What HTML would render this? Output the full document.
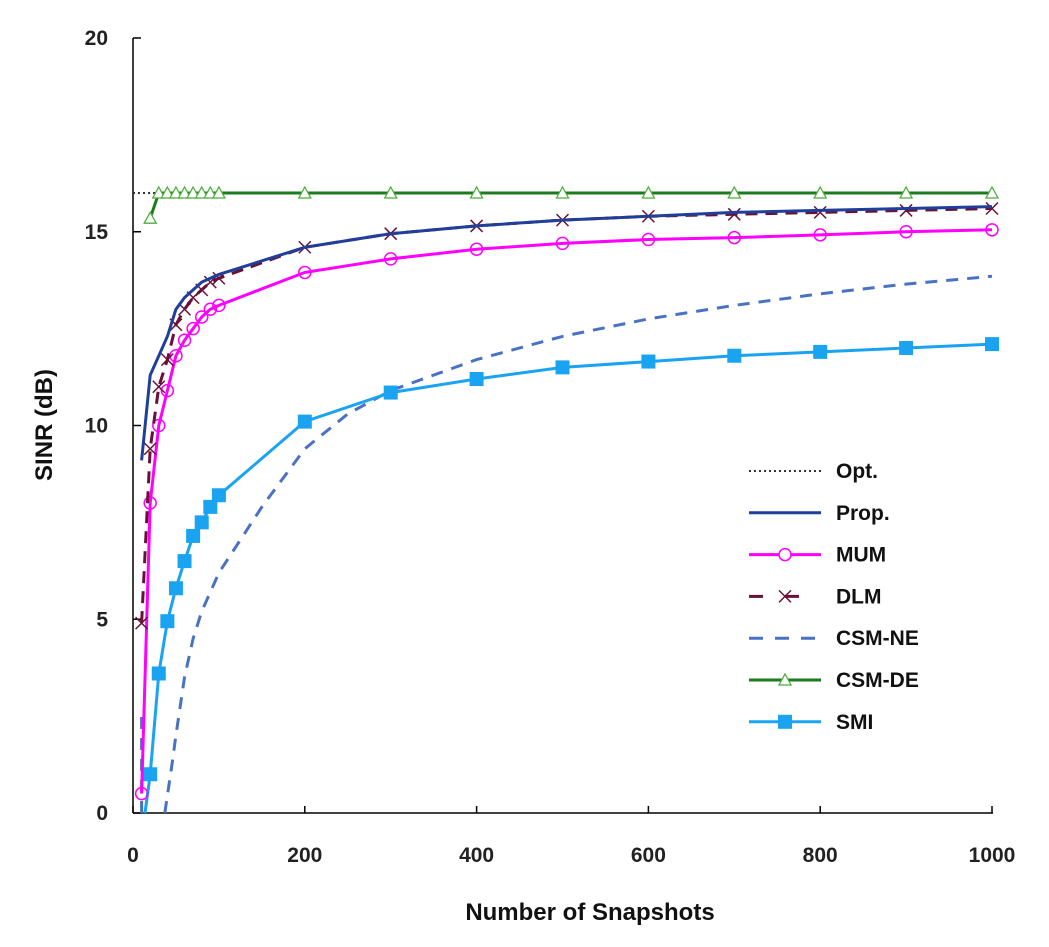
<!DOCTYPE html>
<html><head><meta charset="utf-8"><style>
html,body{margin:0;padding:0;background:#fff;}
svg{display:block;font-family:"Liberation Sans",Arial,sans-serif;}
</style></head><body>
<svg id="s" width="1049" height="947" viewBox="0 0 1049 947" xmlns="http://www.w3.org/2000/svg">
<rect width="1049" height="947" fill="#fff"/>
<g id="axes" stroke="#000" stroke-width="1.5">
<line x1="133" y1="38" x2="133" y2="813"/>
<line x1="133" y1="813" x2="993" y2="813"/>
</g>
<g id="lab" font-size="21" font-weight="bold" fill="#222"></g>
<text x="590" y="920" font-size="24" font-weight="bold" text-anchor="middle" fill="#111">Number of Snapshots</text>
<text transform="translate(52,425) rotate(-90)" font-size="24" font-weight="bold" text-anchor="middle" fill="#111">SINR (dB)</text>
<g id="plot"></g>
<g id="leg" font-size="21" font-weight="bold" fill="#111"></g>
</svg>
<script>
var NS="http://www.w3.org/2000/svg";
function X(v){return 133+v*0.859;}function Y(s){return 813-s*38.75;}
function el(t,a,p){var e=document.createElementNS(NS,t);for(var k in a)e.setAttribute(k,a[k]);(p||document.getElementById('plot')).appendChild(e);return e;}
var lab=document.getElementById('lab'),ax=document.getElementById('axes');
[0,5,10,15,20].forEach(function(v){var t=el('text',{x:108,y:Y(v)+7,'text-anchor':'end'},lab);t.textContent=v;el('line',{x1:133,y1:Y(v),x2:141,y2:Y(v)},ax);});
[0,200,400,600,800,1000].forEach(function(v){var t=el('text',{x:X(v),y:862,'text-anchor':'middle'},lab);t.textContent=v;el('line',{x1:X(v),y1:813,x2:X(v),y2:806},ax);});
function pts(d){return d.map(function(p){return X(p[0]).toFixed(1)+','+Y(p[1]).toFixed(1);}).join(' ');}
var L=[10,20,30,40,50,60,70,80,90,100,200,300,400,500,600,700,800,900,1000];
function zip(a){return a.map(function(v,i){return [L[i],v];});}
var prop=zip([9.1,11.3,11.8,12.3,13.0,13.3,13.5,13.7,13.8,13.9,14.6,14.95,15.15,15.3,15.4,15.5,15.55,15.6,15.65]);
var dlm=zip([4.9,9.4,11.0,11.7,12.6,13.0,13.3,13.5,13.7,13.8,14.6,14.95,15.15,15.3,15.4,15.45,15.5,15.55,15.6]);
var mum=zip([0.5,8.0,10.0,10.9,11.8,12.2,12.5,12.8,13.0,13.1,13.95,14.3,14.55,14.7,14.8,14.85,14.92,15.0,15.05]);
var smi=[[14,0],[20,1.0],[30,3.6],[40,4.95],[50,5.8],[60,6.5],[70,7.15],[80,7.5],[90,7.9],[100,8.2],[200,10.1],[300,10.85],[400,11.2],[500,11.5],[600,11.65],[700,11.8],[800,11.9],[900,12.0],[1000,12.1]];
var ne=[[37,0],[45,1.2],[50,2],[60,3.5],[70,4.5],[80,5.2],[100,6.2],[150,7.9],[200,9.4],[250,10.3],[300,10.9],[400,11.7],[500,12.3],[600,12.75],[700,13.1],[800,13.4],[900,13.65],[1000,13.85]];
var de=[[20,15.35],[30,16]];for(var i=40;i<=100;i+=10)de.push([i,16]);for(i=200;i<=1000;i+=100)de.push([i,16]);
el('polyline',{points:pts([[0,16],[1000,16]]),fill:'none',stroke:'#333','stroke-width':2,'stroke-dasharray':'2,3'});
el('polyline',{points:pts(ne),fill:'none',stroke:'#4a72c4','stroke-width':3,'stroke-dasharray':'12,9'});
el('polyline',{points:pts([[10,0],[10,2.6]]),fill:'none',stroke:'#4a72c4','stroke-width':3,'stroke-dasharray':'12,9'});
el('polyline',{points:pts(smi),fill:'none',stroke:'#1aa3f0','stroke-width':3});
smi.slice(1).forEach(function(p){el('rect',{x:X(p[0])-7,y:Y(p[1])-7,width:14,height:14,fill:'#1aa3f0'});});
el('polyline',{points:pts(mum),fill:'none',stroke:'#ff00ff','stroke-width':3});
mum.forEach(function(p){el('circle',{cx:X(p[0]),cy:Y(p[1]),r:6,fill:'none',stroke:'#ff00ff','stroke-width':1.5});});
el('polyline',{points:pts(dlm),fill:'none',stroke:'#6a1038','stroke-width':3,'stroke-dasharray':'12,8'});
dlm.forEach(function(p){var x=X(p[0]),y=Y(p[1]);el('path',{d:'M'+(x-6)+','+(y-6)+'L'+(x+6)+','+(y+6)+'M'+(x-6)+','+(y+6)+'L'+(x+6)+','+(y-6),stroke:'#6a1038','stroke-width':1.5});});
el('polyline',{points:pts(prop),fill:'none',stroke:'#1f3f9a','stroke-width':3});
el('polyline',{points:pts(de),fill:'none',stroke:'#1e7a1e','stroke-width':3});
de.forEach(function(p){var x=X(p[0]),y=Y(p[1]);el('path',{d:'M'+x+','+(y-6)+'L'+(x+6)+','+(y+5)+'L'+(x-6)+','+(y+5)+'Z',fill:'#fff',stroke:'#4caf3c','stroke-width':1.3});});
var leg=document.getElementById('leg');
var items=[['Opt.','#333','2,3',null],['Prop.','#1f3f9a','',null],['MUM','#ff00ff','','o'],['DLM','#6a1038','14,22','x'],['CSM-NE','#4a72c4','14,12',null],['CSM-DE','#1e7a1e','','t'],['SMI','#1aa3f0','','s']];
items.forEach(function(it,i){var y=471+i*41.8,x1=749,x2=821,xm=785;
el('line',{x1:x1,y1:y,x2:x2,y2:y,stroke:it[1],'stroke-width':it[0]=='Opt.'?2:3,'stroke-dasharray':it[2]},leg);
if(it[3]=='o')el('circle',{cx:xm,cy:y,r:6,fill:'#fff',stroke:'#ff00ff','stroke-width':1.5},leg);
if(it[3]=='x')el('path',{d:'M'+(xm-6)+','+(y-6)+'L'+(xm+6)+','+(y+6)+'M'+(xm-6)+','+(y+6)+'L'+(xm+6)+','+(y-6),stroke:'#6a1038','stroke-width':1.5},leg);
if(it[3]=='t')el('path',{d:'M'+xm+','+(y-6)+'L'+(xm+6)+','+(y+5)+'L'+(xm-6)+','+(y+5)+'Z',fill:'#fff',stroke:'#4caf3c','stroke-width':1.3},leg);
if(it[3]=='s')el('rect',{x:xm-7,y:y-7,width:14,height:14,fill:'#1aa3f0'},leg);
var t=el('text',{x:836,y:y+7},leg);t.textContent=it[0];});
</script>
</body></html>
